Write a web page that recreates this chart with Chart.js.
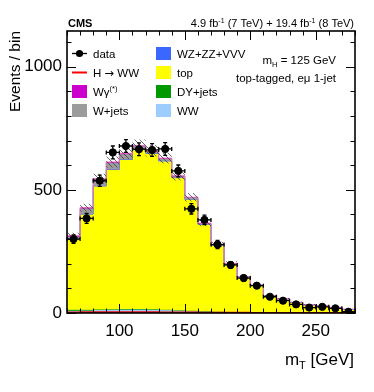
<!DOCTYPE html>
<html>
<head>
  <title>mT top-tagged e-mu 1-jet</title>
  <script src="https://cdn.jsdelivr.net/npm/chart.js"></script>
  <style>
    body { margin: 0; background: #fff; }
  </style>
</head>
<body>
  <canvas id="myChart" width="374" height="392"></canvas>
  <script>
    // bins of mT, 10 GeV wide
    var binLow = [60, 70, 80, 90, 100, 110, 120, 130, 140, 150, 160, 170, 180, 190, 200, 210, 220, 230, 240, 250, 260, 270];
    var binWidth = 10;

    var dataVals = [300, 384, 537, 652, 678, 665, 662, 666, 577, 423, 378, 278, 195, 142, 111, 66, 50, 35, 22, 25, 19, 5];
    var dataErr  = [17, 20, 23, 26, 26, 26, 26, 26, 24, 21, 19, 17, 14, 12, 11, 8, 7, 6, 5, 5, 4, 2];

    // backgrounds, stacked bottom -> top
    var wwVals     = [9, 10, 12, 14, 15, 15, 14, 13, 11, 9, 7, 5, 4, 3, 3, 2, 2, 1, 1, 1, 1, 1];
    var dyVals     = [4, 3, 2, 1.5, 1, 1, 1, 0.5, 0.5, 0.5, 0.5, 0.3, 0.3, 0.2, 0.2, 0.1, 0.1, 0.1, 0.1, 0.1, 0.1, 0.1];
    var topVals    = [289, 388, 501, 566, 606, 648, 633, 603, 537, 452, 352, 270, 194, 142, 108, 66, 54, 41, 31, 27, 21, 13];
    var wzVals     = [1, 1, 1.5, 1.5, 1.5, 1.5, 1.5, 1.5, 1, 1, 1, 0.5, 0.5, 0.5, 0.5, 0.5, 0.3, 0.3, 0.3, 0.3, 0.2, 0.2];
    var wjetsVals  = [7, 22, 25, 26, 21, 12, 6, 8, 5, 5, 3, 2, 2, 1, 1, 1, 0.5, 0.5, 0.5, 0.5, 0.5, 0.5];
    var wgVals     = [4, 4, 4, 4, 4, 3, 3, 3, 3, 2.5, 2, 1.5, 1, 1, 1, 0.5, 0.5, 0.5, 0.5, 0.5, 0.3, 0.3];
    var higgsVals  = [2, 3, 3, 3, 3, 3, 3, 2, 2, 2, 1.5, 1, 1, 1, 0.5, 0.5, 0.5, 0.3, 0.3, 0.2, 0.2, 0.1];
    var systUnc    = [12, 16, 20, 22, 23, 24, 23, 22, 20, 17, 13, 10, 8, 6, 5, 3, 3, 2, 2, 2, 1, 1];

    var yTicksMajor = [0, 500, 1000];
    var xTicksMajor = [100, 150, 200, 250];

    var FONT = '"Liberation Sans", Arial, Helvetica, sans-serif';

    var colors = {
      ww: '#9dcdff',
      dy: '#009a00',
      top: '#ffff00',
      wz: '#3a67ff',
      wjets: '#9b9b9b',
      wg: '#cc00cc',
      higgs: '#ff0000'
    };

    // running sum of stack
    var stackList = [wwVals, dyVals, topVals, wzVals, wjetsVals, wgVals];
    var cum = [];
    var run = binLow.map(function () { return 0; });
    stackList.forEach(function (arr) {
      run = run.map(function (v, i) { return v + arr[i]; });
      cum.push(run.slice());
    });
    var total = cum[cum.length - 1];

    function steps(vals) {
      var pts = binLow.map(function (x, i) { return { x: x, y: vals[i] }; });
      pts.push({ x: binLow[binLow.length - 1] + binWidth, y: vals[vals.length - 1] });
      return pts;
    }

    var canvas = document.getElementById('myChart');
    var ctx = canvas.getContext('2d');

    // hatched pattern for the uncertainty band
    var tile = document.createElement('canvas');
    tile.width = 5; tile.height = 5;
    var tg = tile.getContext('2d');
    tg.strokeStyle = 'rgba(60,60,60,0.85)';
    tg.lineWidth = 0.9;
    tg.beginPath();
    tg.moveTo(-1, -1); tg.lineTo(6, 6);
    tg.stroke();
    var hatch = ctx.createPattern(tile, 'repeat');

    function stackSet(label, idx, color, border) {
      return {
        label: label,
        data: steps(cum[idx]),
        stepped: true,
        borderColor: border || color,
        borderWidth: 1,
        backgroundColor: color,
        fill: idx === 0 ? 'origin' : '-1',
        pointRadius: 0,
        order: 10 - idx
      };
    }

    var datasets = [
      stackSet('WW', 0, colors.ww),
      stackSet('DY+jets', 1, colors.dy),
      stackSet('top', 2, colors.top),
      stackSet('WZ+ZZ+VVV', 3, colors.wz),
      stackSet('W+jets', 4, colors.wjets),
      stackSet('Wgamma', 5, colors.wg, '#e870c8'),
      {
        label: 'unc low',
        data: steps(total.map(function (v, i) { return v - systUnc[i]; })),
        stepped: true, borderWidth: 0, borderColor: 'rgba(0,0,0,0)',
        pointRadius: 0, fill: false, order: 3
      },
      {
        label: 'unc high',
        data: steps(total.map(function (v, i) { return v + systUnc[i]; })),
        stepped: true, borderWidth: 0, borderColor: 'rgba(0,0,0,0)',
        backgroundColor: hatch, pointRadius: 0, fill: '-1', order: 2
      },
      {
        label: 'H -> WW',
        data: steps(higgsVals),
        stepped: true, borderColor: colors.higgs, borderWidth: 2,
        pointRadius: 0, fill: false, order: 1
      },
      {
        label: 'data',
        data: binLow.map(function (x, i) { return { x: x + binWidth / 2, y: dataVals[i] }; }),
        showLine: false,
        pointRadius: 3.6,
        pointBackgroundColor: '#000',
        pointBorderColor: '#000',
        order: 0
      }
    ];

    function fontOf(p) {
      return (p.bold ? 'bold ' : '') + p.size + 'px ' + (p.family || FONT);
    }

    function richText(c, parts, x, y, align) {
      var w = 0;
      parts.forEach(function (p) {
        c.font = fontOf(p);
        p.w = c.measureText(p.t).width;
        w += p.w;
      });
      var cx = align === 'right' ? x - w : x;
      c.textAlign = 'left';
      c.textBaseline = 'alphabetic';
      parts.forEach(function (p) {
        c.font = fontOf(p);
        c.fillText(p.t, cx, y + (p.dy || 0));
        cx += p.w;
      });
    }

    var cmsPlugin = {
      id: 'cmsDecor',
      afterDatasetsDraw: function (chart) {
        var c = chart.ctx, xs = chart.scales.x, ys = chart.scales.y;
        c.save();
        c.strokeStyle = '#000';
        c.lineWidth = 1.3;
        binLow.forEach(function (x0, i) {
          var xl = xs.getPixelForValue(x0), xr = xs.getPixelForValue(x0 + binWidth);
          var yc = ys.getPixelForValue(dataVals[i]);
          var yt = ys.getPixelForValue(dataVals[i] + dataErr[i]);
          var yb = ys.getPixelForValue(Math.max(0, dataVals[i] - dataErr[i]));
          var xc = xs.getPixelForValue(x0 + binWidth / 2);
          c.beginPath();
          c.moveTo(xl, yc); c.lineTo(xr, yc);
          c.moveTo(xc, yt); c.lineTo(xc, yb);
          // end caps
          c.moveTo(xl, yc - 2); c.lineTo(xl, yc + 2);
          c.moveTo(xr, yc - 2); c.lineTo(xr, yc + 2);
          c.moveTo(xc - 2, yt); c.lineTo(xc + 2, yt);
          c.moveTo(xc - 2, yb); c.lineTo(xc + 2, yb);
          c.stroke();
        });
        c.restore();
      },
      afterDraw: function (chart) {
        var c = chart.ctx, a = chart.chartArea, xs = chart.scales.x, ys = chart.scales.y;
        c.save();
        c.fillStyle = '#000';
        c.strokeStyle = '#000';

        // inward ticks
        c.lineWidth = 1;
        c.beginPath();
        for (var v = xs.min; v <= xs.max; v += 10) {
          var px = Math.round(xs.getPixelForValue(v)) + 0.5;
          var len = xTicksMajor.indexOf(v) >= 0 ? 9 : 4.5;
          c.moveTo(px, a.bottom); c.lineTo(px, a.bottom - len);
          c.moveTo(px, a.top); c.lineTo(px, a.top + len);
        }
        for (var u = 0; u <= ys.max; u += 100) {
          var py = Math.round(ys.getPixelForValue(u)) + 0.5;
          var l2 = yTicksMajor.indexOf(u) >= 0 ? 9 : 4.5;
          c.moveTo(a.left, py); c.lineTo(a.left + l2, py);
          c.moveTo(a.right, py); c.lineTo(a.right - l2, py);
        }
        c.stroke();

        // frame
        c.lineWidth = 1.6;
        c.strokeRect(a.left, a.top, a.right - a.left, a.bottom - a.top);

        // header
        richText(c, [{ t: 'CMS', size: 11, bold: true }], a.left + 1, 27, 'left');
        richText(c, [
          { t: '4.9 fb', size: 11 }, { t: '-1', size: 7, dy: -4 },
          { t: ' (7 TeV) + 19.4 fb', size: 11 }, { t: '-1', size: 7, dy: -4 },
          { t: ' (8 TeV)', size: 11 }
        ], 354, 27, 'right');

        // axis titles
        c.save();
        c.translate(20, 31);
        c.rotate(-Math.PI / 2);
        c.font = '15.5px ' + FONT;
        c.textAlign = 'right';
        c.textBaseline = 'alphabetic';
        c.fillText('Events / bin', 0, 0);
        c.restore();
        richText(c, [
          { t: 'm', size: 17 }, { t: 'T', size: 11, dy: 4 }, { t: ' [GeV]', size: 17 }
        ], 354, 365, 'right');

        // legend
        var rows = [53.5, 72.5, 91.5, 110.5];
        var col1 = [
          { name: [{ t: 'data', size: 11.5 }], kind: 'data' },
          { name: [{ t: 'H ', size: 11.5 }, { t: '\u2192', size: 11.5, family: '"DejaVu Sans", sans-serif' }, { t: ' WW', size: 11.5 }], kind: 'line', color: colors.higgs },
          { name: [{ t: 'W\u03b3', size: 11.5 }, { t: '(*)', size: 7.5, dy: -5 }], kind: 'box', color: colors.wg },
          { name: [{ t: 'W+jets', size: 11.5 }], kind: 'box', color: colors.wjets }
        ];
        var col2 = [
          { name: [{ t: 'WZ+ZZ+VVV', size: 11.5 }], kind: 'box', color: colors.wz },
          { name: [{ t: 'top', size: 11.5 }], kind: 'box', color: colors.top },
          { name: [{ t: 'DY+jets', size: 11.5 }], kind: 'box', color: colors.dy },
          { name: [{ t: 'WW', size: 11.5 }], kind: 'box', color: colors.ww }
        ];
        function entry(e, x0, y) {
          if (e.kind === 'data') {
            c.lineWidth = 1.3;
            c.beginPath(); c.moveTo(x0, y); c.lineTo(x0 + 15, y); c.stroke();
            c.beginPath(); c.arc(x0 + 7.5, y, 3.6, 0, Math.PI * 2); c.fill();
          } else if (e.kind === 'line') {
            c.strokeStyle = e.color; c.lineWidth = 2;
            c.beginPath(); c.moveTo(x0, y); c.lineTo(x0 + 15, y); c.stroke();
            c.strokeStyle = '#000';
          } else {
            c.fillStyle = e.color;
            c.fillRect(x0, y - 6.5, 15, 13);
            c.fillStyle = '#000';
          }
          richText(c, e.name, x0 + 21, y + 4, 'left');
        }
        col1.forEach(function (e, i) { entry(e, 72, rows[i]); });
        col2.forEach(function (e, i) { entry(e, 156, rows[i]); });

        // labels on the right
        richText(c, [
          { t: 'm', size: 11.5 }, { t: 'H', size: 7.5, dy: 3 }, { t: ' = 125 GeV', size: 11.5 }
        ], 336, 64, 'right');
        richText(c, [{ t: 'top-tagged, e\u03bc 1-jet', size: 11.5 }], 336, 82, 'right');

        c.restore();
      }
    };

    var myChart = new Chart(ctx, {
      type: 'line',
      data: { datasets: datasets },
      options: {
        responsive: false,
        animation: false,
        layout: { padding: { top: 31, right: 19, left: 0, bottom: 0 } },
        elements: { line: { tension: 0 } },
        plugins: {
          legend: { display: false },
          tooltip: { enabled: false }
        },
        scales: {
          x: {
            type: 'linear',
            min: 60,
            max: 280,
            grid: { display: false, drawTicks: false },
            border: { display: false },
            ticks: {
              stepSize: 10,
              autoSkip: false,
              maxRotation: 0,
              padding: 8,
              color: '#000',
              font: { family: FONT, size: 17 },
              callback: function (v) { return xTicksMajor.indexOf(v) >= 0 ? String(v) : ''; }
            },
            afterFit: function (s) { s.height = 79; }
          },
          y: {
            min: 0,
            max: 1145,
            grid: { display: false, drawTicks: false },
            border: { display: false },
            ticks: {
              stepSize: 100,
              autoSkip: false,
              padding: 5,
              color: '#000',
              font: { family: FONT, size: 17 },
              callback: function (v) { return yTicksMajor.indexOf(v) >= 0 ? String(v) : ''; }
            },
            afterFit: function (s) { s.width = 67; }
          }
        }
      },
      plugins: [cmsPlugin]
    });
  </script>
</body>
</html>
